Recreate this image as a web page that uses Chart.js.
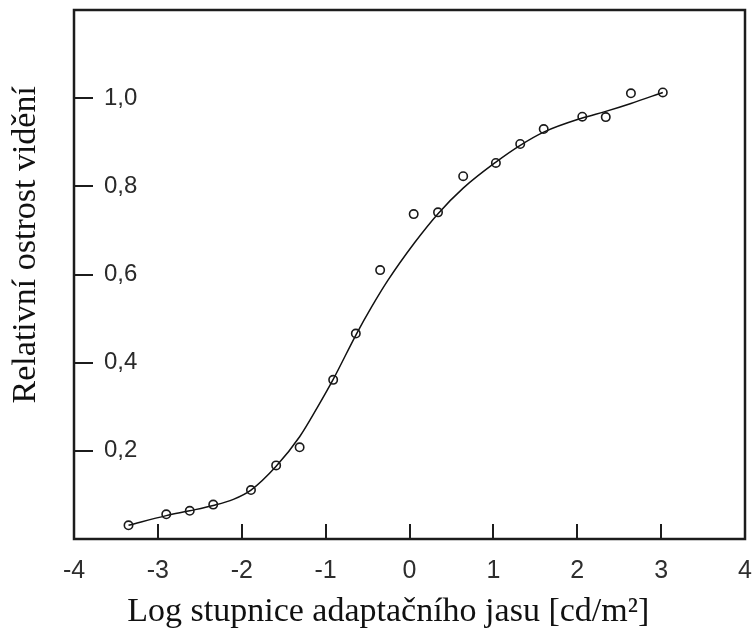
<!DOCTYPE html>
<html lang="cs">
<head>
<meta charset="utf-8">
<title>Relativní ostrost vidění</title>
<script src="https://cdn.jsdelivr.net/npm/chart.js@4.4.1/dist/chart.umd.min.js"></script>
<style>
  html, body { margin: 0; padding: 0; background: #fff; }
  #wrap { width: 753px; height: 632px; }
</style>
</head>
<body>
<div id="wrap"><canvas id="acuity"></canvas></div>
<script>
// Measured relative visual acuity vs. log adaptation luminance
const measuredX = [-3.35, -2.90, -2.62, -2.34, -1.89, -1.59, -1.31, -0.91, -0.64, -0.35,
                   0.05, 0.34, 0.64, 1.03, 1.32, 1.60, 2.06, 2.34, 2.64, 3.02];
const measuredY = [0.031, 0.056, 0.064, 0.078, 0.111, 0.167, 0.208, 0.361, 0.466, 0.610,
                   0.737, 0.741, 0.823, 0.853, 0.896, 0.930, 0.958, 0.957, 1.011, 1.013];

// Smooth fitted curve through the measurements
const fitX = [-3.35, -2.90, -2.62, -2.34, -2.10, -1.89, -1.59, -1.31, -1.10, -0.91, -0.63, -0.45,
              -0.26, 0.06, 0.34, 0.64, 1.03, 1.32, 1.60, 2.06, 2.34, 2.64, 3.02];
const fitY = [0.031, 0.053, 0.064, 0.076, 0.090, 0.111, 0.165, 0.232, 0.298, 0.362, 0.466, 0.527,
              0.586, 0.672, 0.738, 0.796, 0.855, 0.893, 0.923, 0.955, 0.970, 0.988, 1.013];

// Axis tick marks (drawn inward) and labelled values
const xTickMarks = [-3, -2, -1, 0, 1, 2, 3];
const yTickMarks = [0.2, 0.4, 0.6, 0.8, 1.0];

const xTitle = 'Log stupnice adaptačního jasu [cd/m²]';
const yTitle = 'Relativní ostrost vidění';

const toPoints = (xs, ys) => xs.map((x, i) => ({ x: x, y: ys[i] }));

// keep the plot box fixed: no extra room for overhanging tick labels
function fixBox(size) {
  return (s) => {
    if (s.isHorizontal()) s.height = size; else s.width = size;
    s.paddingTop = 0;
    s.paddingBottom = 0;
    s.paddingLeft = 0;
    s.paddingRight = 0;
  };
}

// Box frame plus short tick marks pointing into the plot
const frameAndTicks = {
  id: 'frameAndTicks',
  afterDraw(chart) {
    const { ctx, chartArea: a, scales } = chart;
    ctx.save();
    ctx.strokeStyle = '#1c1c1c';
    ctx.lineWidth = 2;
    xTickMarks.forEach((v) => {
      const px = Math.round(scales.x.getPixelForValue(v));
      ctx.beginPath();
      ctx.moveTo(px, a.bottom);
      ctx.lineTo(px, a.bottom - 15);
      ctx.stroke();
    });
    yTickMarks.forEach((v) => {
      const py = Math.round(scales.y.getPixelForValue(v));
      ctx.beginPath();
      ctx.moveTo(a.left, py);
      ctx.lineTo(a.left + 19, py);
      ctx.stroke();
    });
    ctx.lineWidth = 2.5;
    ctx.strokeRect(a.left, a.top, a.right - a.left, a.bottom - a.top);
    ctx.restore();
  },
};

new Chart(document.getElementById('acuity'), {
  type: 'scatter',
  data: {
    datasets: [
      {
        label: 'fit',
        data: toPoints(fitX, fitY),
        showLine: true,
        borderColor: '#111',
        borderWidth: 1.5,
        pointRadius: 0,
        cubicInterpolationMode: 'monotone',
        order: 2,
      },
      {
        label: 'measured',
        data: toPoints(measuredX, measuredY),
        pointStyle: 'circle',
        pointRadius: 4.2,
        borderColor: '#1a1a1a',
        borderWidth: 1.6,
        backgroundColor: 'rgba(0,0,0,0)',
        order: 1,
      },
    ],
  },
  options: {
    responsive: true,
    maintainAspectRatio: false,
    animation: false,
    layout: { padding: { top: 10, right: 8, left: 0, bottom: 0 } },
    plugins: {
      legend: { display: false },
      tooltip: { enabled: false },
    },
    scales: {
      x: {
        type: 'linear',
        min: -4,
        max: 4,
        afterFit: fixBox(93),
        border: { display: false },
        grid: { display: false, drawTicks: false },
        ticks: {
          stepSize: 1,
          padding: 17,
          color: '#2e2e2e',
          font: { family: 'Liberation Sans', size: 25 },
          maxRotation: 0,
        },
        title: {
          display: true,
          text: xTitle + '\u00a0'.repeat(5),
          color: '#111',
          font: { family: 'Liberation Serif', size: 34, lineHeight: 1.2 },
          padding: { top: 0, bottom: 0 },
        },
      },
      y: {
        type: 'linear',
        min: 0,
        max: 1.2,
        afterFit: fixBox(74),
        border: { display: false },
        grid: { display: false, drawTicks: false },
        ticks: {
          stepSize: 0.2,
          mirror: true,
          padding: 30,
          color: '#2a2a2a',
          font: { family: 'Liberation Sans', size: 24 },
          callback: (v) => (yTickMarks.some((t) => Math.abs(t - v) < 1e-6) ? v.toFixed(1).replace('.', ',') : ''),
        },
        title: {
          display: true,
          text: '\u00a0'.repeat(7) + yTitle,
          color: '#111',
          font: { family: 'Liberation Serif', size: 34, lineHeight: 1.2 },
          padding: { top: 6, bottom: 0 },
        },
      },
    },
  },
  plugins: [frameAndTicks],
});
</script>
</body>
</html>
